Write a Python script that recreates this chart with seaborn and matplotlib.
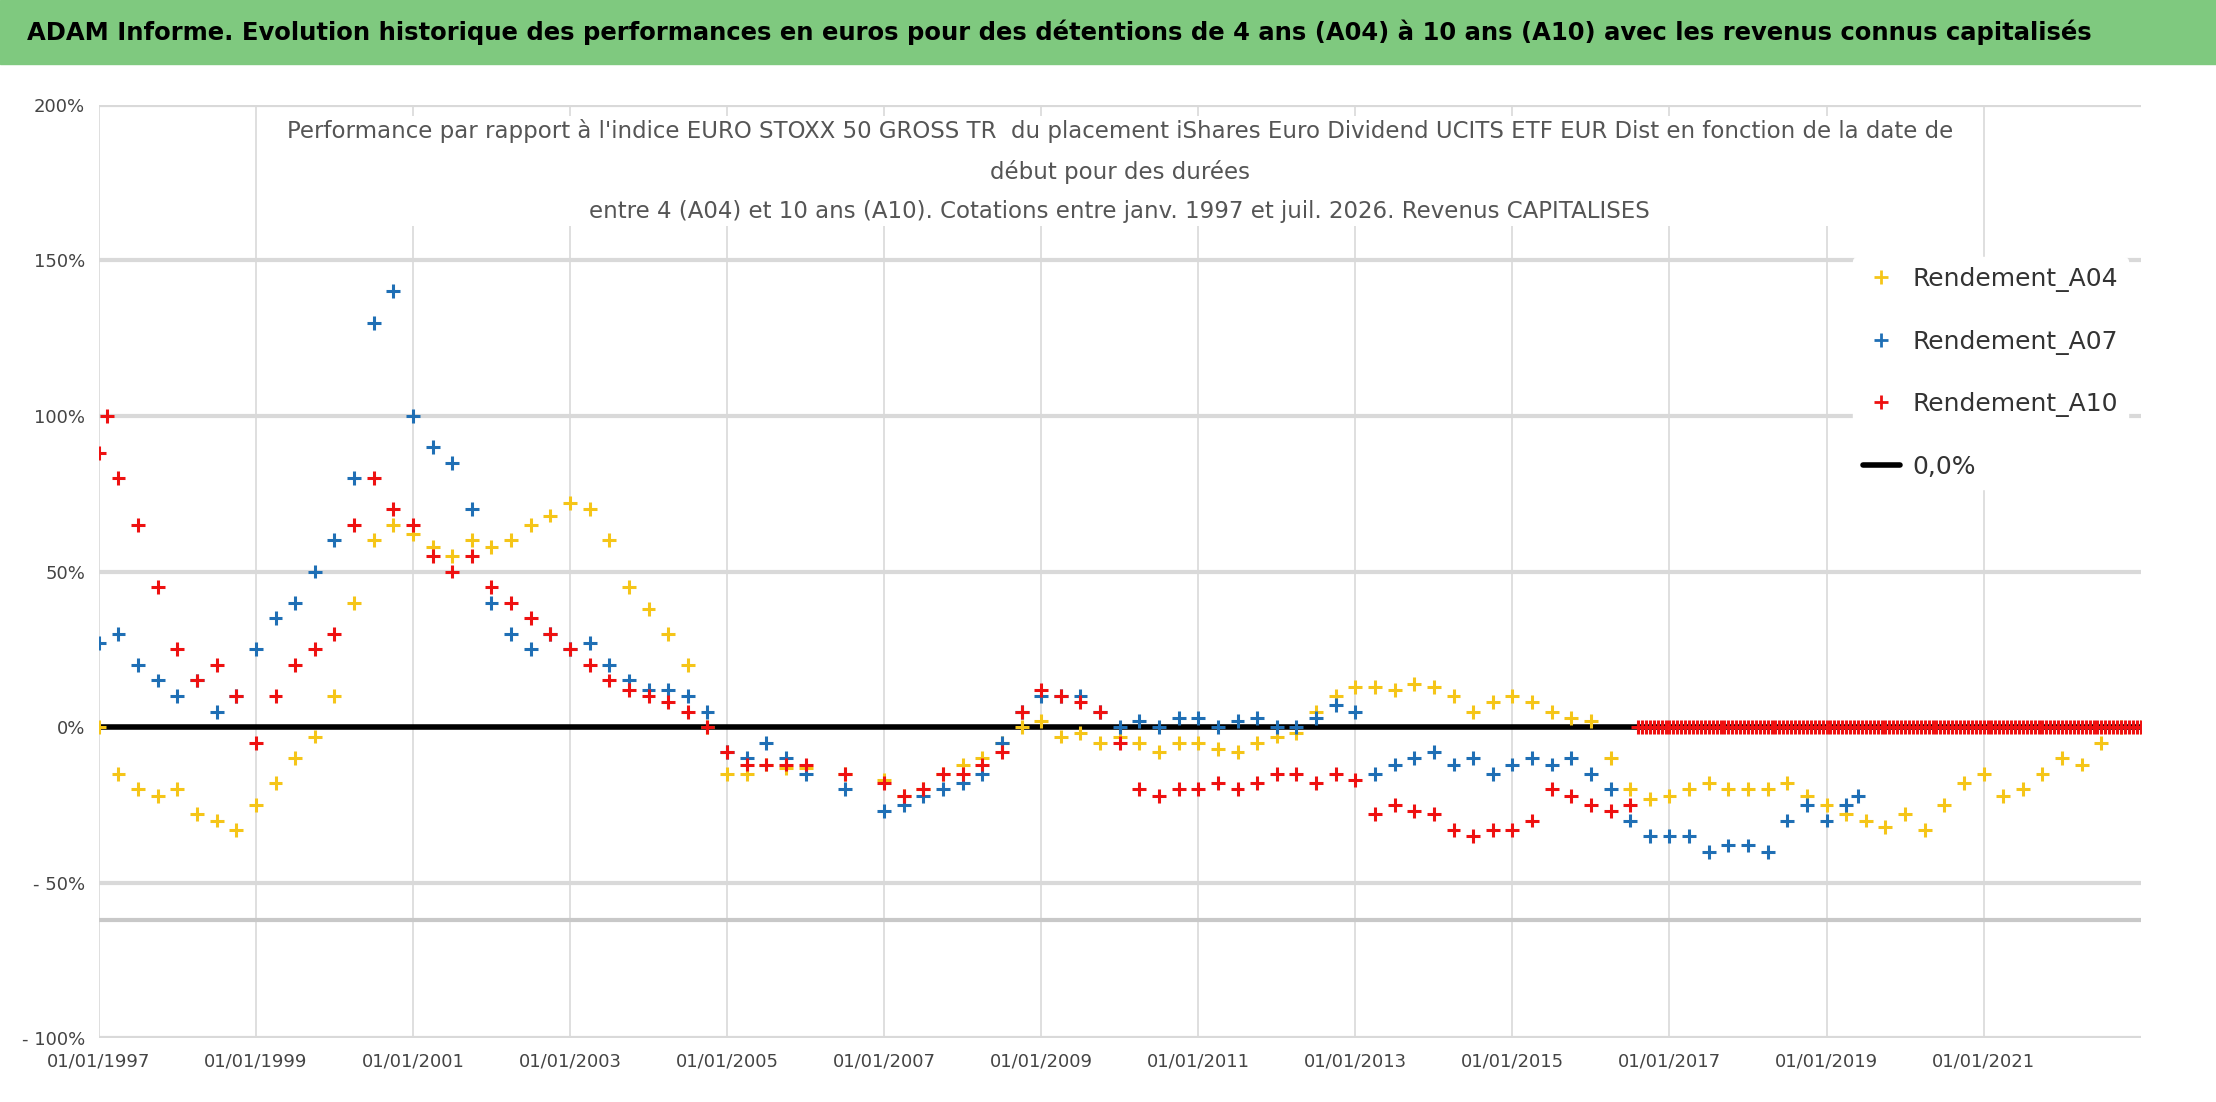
import matplotlib
matplotlib.use("Agg")
import matplotlib.pyplot as plt
import seaborn as sns
import pandas as pd
import numpy as np

sns.set_theme(style="white")
plt.rcParams['font.family'] = ['DejaVu Sans']

a04_x = [1997.0,1997.25,1997.5,1997.75,1998.0,1998.25,1998.5,1998.75,1999.0,1999.25,1999.5,1999.75,2000.0,2000.25,2000.5,2000.75,2001.0,2001.25,2001.5,2001.75,2002.0,2002.25,2002.5,2002.75,2003.0,2003.25,2003.5,2003.75,2004.0,2004.25,2004.5,2004.75,2005.0,2005.25,2005.5,2005.75,2006.0,2006.5,2007.0,2007.25,2007.5,2007.75,2008.0,2008.25,2008.5,2008.75,2009.0,2009.25,2009.5,2009.75,2010.0,2010.25,2010.5,2010.75,2011.0,2011.25,2011.5,2011.75,2012.0,2012.25,2012.5,2012.75,2013.0,2013.25,2013.5,2013.75,2014.0,2014.25,2014.5,2014.75,2015.0,2015.25,2015.5,2015.75,2016.0,2016.25,2016.5,2016.75,2017.0,2017.25,2017.5,2017.75,2018.0,2018.25,2018.5,2018.75,2019.0,2019.25,2019.5,2019.75,2020.0,2020.25,2020.5,2020.75,2021.0,2021.25,2021.5,2021.75,2022.0,2022.25,2022.5,2022.75,2023.0]
a04_y = [0,-15,-20,-22,-20,-28,-30,-33,-25,-18,-10,-3,10,40,60,65,62,58,55,60,58,60,65,68,72,70,60,45,38,30,20,0,-15,-15,-12,-13,-13,-15,-17,-22,-20,-15,-12,-10,-5,0,2,-3,-2,-5,-3,-5,-8,-5,-5,-7,-8,-5,-3,-2,5,10,13,13,12,14,13,10,5,8,10,8,5,3,2,-10,-20,-23,-22,-20,-18,-20,-20,-20,-18,-22,-25,-28,-30,-32,-28,-33,-25,-18,-15,-22,-20,-15,-10,-12,-5,0,0]

a07_x = [1997.0,1997.25,1997.5,1997.75,1998.0,1998.25,1998.5,1998.75,1999.0,1999.25,1999.5,1999.75,2000.0,2000.25,2000.5,2000.75,2001.0,2001.25,2001.5,2001.75,2002.0,2002.25,2002.5,2002.75,2003.0,2003.25,2003.5,2003.75,2004.0,2004.25,2004.5,2004.75,2005.0,2005.25,2005.5,2005.75,2006.0,2006.5,2007.0,2007.25,2007.5,2007.75,2008.0,2008.25,2008.5,2008.75,2009.0,2009.25,2009.5,2009.75,2010.0,2010.25,2010.5,2010.75,2011.0,2011.25,2011.5,2011.75,2012.0,2012.25,2012.5,2012.75,2013.0,2013.25,2013.5,2013.75,2014.0,2014.25,2014.5,2014.75,2015.0,2015.25,2015.5,2015.75,2016.0,2016.25,2016.5,2016.75,2017.0,2017.25,2017.5,2017.75,2018.0,2018.25,2018.5,2018.75,2019.0,2019.25,2019.4]
a07_y = [27,30,20,15,10,15,5,10,25,35,40,50,60,80,130,140,100,90,85,70,40,30,25,30,25,27,20,15,12,12,10,5,-8,-10,-5,-10,-15,-20,-27,-25,-22,-20,-18,-15,-5,5,10,10,10,5,0,2,0,3,3,0,2,3,0,0,3,7,5,-15,-12,-10,-8,-12,-10,-15,-12,-10,-12,-10,-15,-20,-30,-35,-35,-35,-40,-38,-38,-40,-30,-25,-30,-25,-22]

a10_x = [1997.0,1997.1,1997.25,1997.5,1997.75,1998.0,1998.25,1998.5,1998.75,1999.0,1999.25,1999.5,1999.75,2000.0,2000.25,2000.5,2000.75,2001.0,2001.25,2001.5,2001.75,2002.0,2002.25,2002.5,2002.75,2003.0,2003.25,2003.5,2003.75,2004.0,2004.25,2004.5,2004.75,2005.0,2005.25,2005.5,2005.75,2006.0,2006.5,2007.0,2007.25,2007.5,2007.75,2008.0,2008.25,2008.5,2008.75,2009.0,2009.25,2009.5,2009.75,2010.0,2010.25,2010.5,2010.75,2011.0,2011.25,2011.5,2011.75,2012.0,2012.25,2012.5,2012.75,2013.0,2013.25,2013.5,2013.75,2014.0,2014.25,2014.5,2014.75,2015.0,2015.25,2015.5,2015.75,2016.0,2016.25,2016.5]
a10_y = [88,100,80,65,45,25,15,20,10,-5,10,20,25,30,65,80,70,65,55,50,55,45,40,35,30,25,20,15,12,10,8,5,0,-8,-12,-12,-12,-12,-15,-18,-22,-20,-15,-15,-12,-8,5,12,10,8,5,-5,-20,-22,-20,-20,-18,-20,-18,-15,-15,-18,-15,-17,-28,-25,-27,-28,-33,-35,-33,-33,-30,-20,-22,-25,-27,-25]
a10_zero_start, a10_zero_end = 2016.6, 2023.0

xticks = [1997,1999,2001,2003,2005,2007,2009,2011,2013,2015,2017,2019,2021]
yticks = [-100,-50,0,50,100,150,200]
ylabels = ["- 100%","- 50%","0%","50%","100%","150%","200%"]

fig = plt.figure(figsize=(22.16,11.02), dpi=100)
fig.patch.set_facecolor("white")
fig.patches.append(plt.Rectangle((0,0.942),1,0.058,transform=fig.transFigure,color="#7fc97f",zorder=0))
fig.text(0.012,0.971,"ADAM Informe. Evolution historique des performances en euros pour des détentions de 4 ans (A04) à 10 ans (A10) avec les revenus connus capitalisés",
         fontsize=17.5,fontweight="bold",va="center",ha="left",color="black")

ax = fig.add_axes([0.0446,0.0577,0.9214,0.8473])
zero_x = np.arange(a10_zero_start, a10_zero_end, 0.05)
df = pd.concat([
    pd.DataFrame({"x":a04_x,"y":a04_y,"s":"Rendement_A04"}),
    pd.DataFrame({"x":a07_x,"y":a07_y,"s":"Rendement_A07"}),
    pd.DataFrame({"x":a10_x,"y":a10_y,"s":"Rendement_A10"}),
])
ax.axhline(0,color="black",lw=4,zorder=2)
sns.scatterplot(data=df,x="x",y="y",hue="s",palette={"Rendement_A04":"#f5c518","Rendement_A07":"#1f6fb5","Rendement_A10":"#ee1111"},
                marker="+",s=100,linewidth=2.2,ax=ax,zorder=3,legend=False)
ax.scatter(zero_x,np.zeros_like(zero_x),marker="+",s=100,linewidths=2.2,color="#ee1111",zorder=4)
ax.axhline(-62,color="#c8c8c8",lw=3,zorder=1)

ax.set_xlim(1997,2023)
ax.set_ylim(-100,200)
ax.set_xticks(xticks)
ax.set_xticklabels([f"01/01/{y}" for y in xticks],fontsize=13,color="#444444")
ax.set_yticks(yticks)
ax.set_yticklabels(ylabels,fontsize=13,color="#444444")
ax.grid(True,axis="x",color="#d9d9d9",lw=1.2)
ax.grid(True,axis="y",color="#d9d9d9",lw=3)
for s in ax.spines.values(): s.set_visible(False)
ax.tick_params(length=0,pad=10)
ax.set_xlabel(""); ax.set_ylabel("")

ax.text(0.5,0.985,"Performance par rapport à l'indice EURO STOXX 50 GROSS TR  du placement iShares Euro Dividend UCITS ETF EUR Dist en fonction de la date de\ndébut pour des durées\nentre 4 (A04) et 10 ans (A10). Cotations entre janv. 1997 et juil. 2026. Revenus CAPITALISES",
        transform=ax.transAxes,ha="center",va="top",fontsize=16.5,color="#555555",linespacing=1.9,
        bbox=dict(facecolor="white",edgecolor="none",pad=2))

from matplotlib.lines import Line2D
handles=[Line2D([],[],marker="+",ls="",color="#f5c518",ms=10,mew=2),
         Line2D([],[],marker="+",ls="",color="#1f6fb5",ms=10,mew=2),
         Line2D([],[],marker="+",ls="",color="#ee1111",ms=10,mew=2),
         Line2D([],[],color="black",lw=4)]
leg=ax.legend(handles,["Rendement_A04","Rendement_A07","Rendement_A10","0,0%"],loc="upper right",bbox_to_anchor=(1.0,0.85),
          fontsize=18,frameon=True,facecolor="white",edgecolor="white",framealpha=1,labelspacing=1.5,handlelength=1.5,handletextpad=0.5)
for t in leg.get_texts(): t.set_color("#333333")
fig.savefig("out.png",dpi=100)
